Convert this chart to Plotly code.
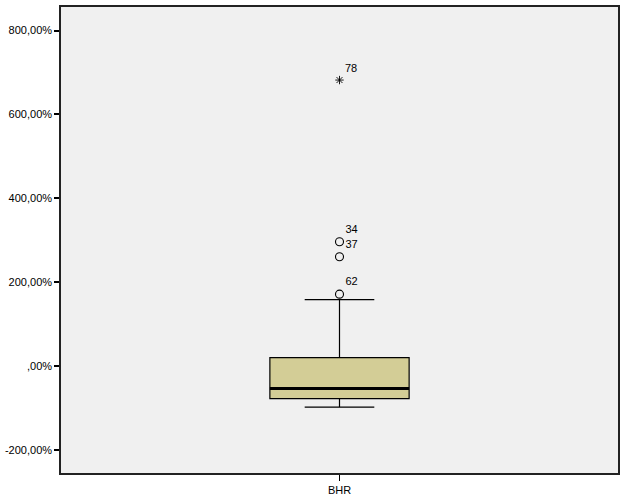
import plotly.graph_objects as go

# box summary for BHR (percent)
category = 'BHR'
q1 = -77.0
median = -53.0
q3 = 21.0
lower_whisker = -97.0
upper_whisker = 159.0

# outliers: case ids and values
circle_ids = ['34', '37', '62']
circle_vals = [297.0, 261.0, 172.0]
extreme_ids = ['78']
extreme_vals = [682.0]

tick_vals = [-200, 0, 200, 400, 600, 800]
tick_text = ['-200,00%', ',00%', '200,00%', '400,00%', '600,00%', '800,00%']

box_w = 0.5

fig = go.Figure()
fig.add_trace(go.Box(x=[0], q1=[q1], median=[median], q3=[q3],
                     lowerfence=[lower_whisker], upperfence=[upper_whisker],
                     width=box_w, whiskerwidth=0.5, fillcolor='#D3CD96',
                     line=dict(color='black', width=1.2), boxpoints=False,
                     hoverinfo='skip', showlegend=False))
# thick median line
fig.add_trace(go.Scatter(x=[-box_w / 2, box_w / 2], y=[median, median], mode='lines',
                         line=dict(color='black', width=3), showlegend=False, hoverinfo='skip'))
fig.add_trace(go.Scatter(x=[0] * len(circle_vals), y=circle_vals, mode='markers+text',
                         marker=dict(symbol='circle-open', size=8, color='black', line=dict(width=1.1)),
                         text=circle_ids, textposition='top right',
                         textfont=dict(family='Liberation Sans, Arial', size=11, color='black'),
                         showlegend=False))
fig.add_trace(go.Scatter(x=[0] * len(extreme_vals), y=extreme_vals, mode='markers+text',
                         marker=dict(symbol='asterisk-open', size=7, color='black', line=dict(width=0.9, color='black')),
                         text=extreme_ids, textposition='top right',
                         textfont=dict(family='Liberation Sans, Arial', size=11, color='black'),
                         showlegend=False))

fig.update_layout(width=626, height=501, margin=dict(l=60, r=8, t=5, b=27),
                  paper_bgcolor='white', plot_bgcolor='#F0F0F0',
                  font=dict(family='Liberation Sans, Arial', size=11, color='black'),
                  showlegend=False)
fig.update_xaxes(range=[-1, 1], tickvals=[0], ticktext=[category], ticks='outside',
                 ticklen=6, tickcolor='black', showgrid=False, zeroline=False,
                 showline=True, linecolor='#222222', linewidth=1.5, mirror=True)
fig.update_yaxes(range=[-254, 856], tickvals=tick_vals, ticktext=tick_text, ticks='outside',
                 ticklen=5, tickcolor='black', tickwidth=1.5, showgrid=False, zeroline=False,
                 showline=True, linecolor='#222222', linewidth=1.5, mirror=True)

fig.write_html("out.html", config={'displayModeBar': False},
               post_script="document.body.style.margin='0';")
